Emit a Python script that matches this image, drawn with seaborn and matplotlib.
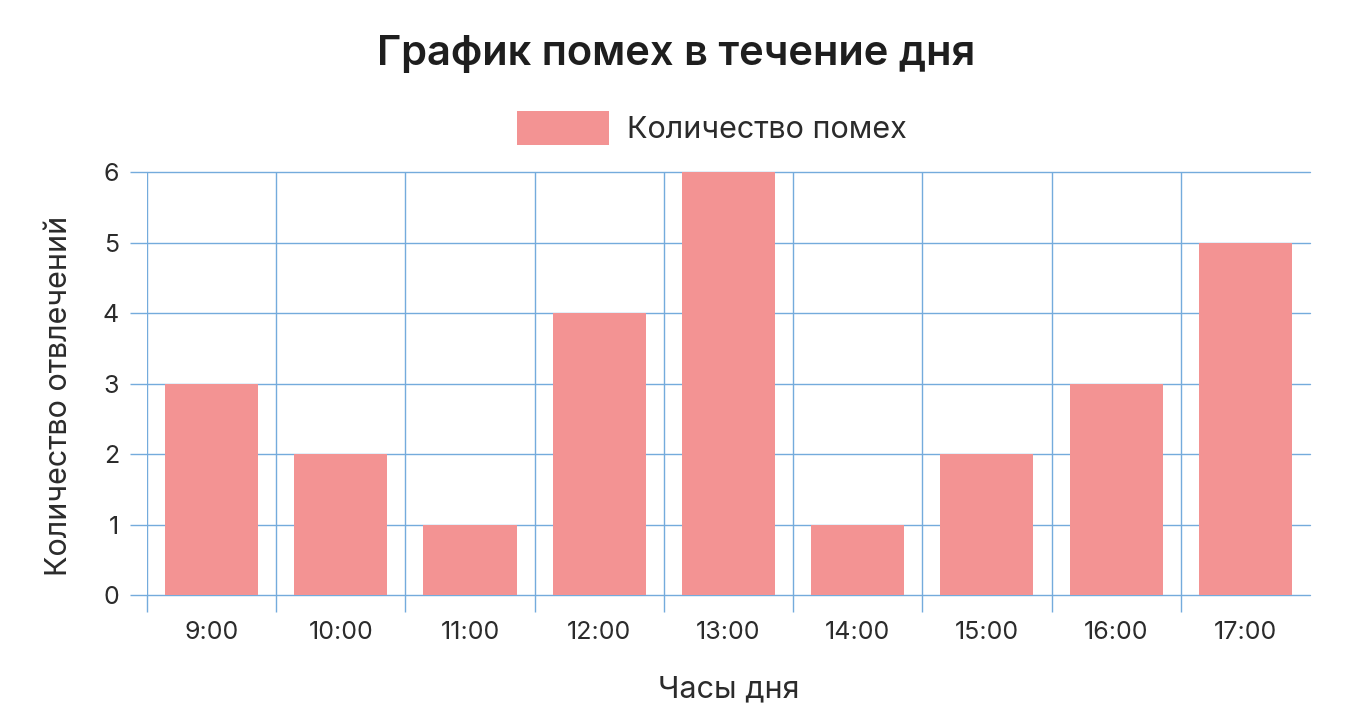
import pandas as pd
import seaborn as sns
import matplotlib.pyplot as plt

# Data
hours = ["9:00", "10:00", "11:00", "12:00", "13:00", "14:00", "15:00", "16:00", "17:00"]
interruptions = [3, 2, 1, 4, 6, 1, 2, 3, 5]
y_ticks = [0, 1, 2, 3, 4, 5, 6]

df = pd.DataFrame({"Час": hours, "Количество помех": interruptions})

sns.set_theme(style="white")
plt.rcParams['font.family'] = ['Inter', 'DejaVu Sans']

grid_color = '#74abdc'
bar_color = '#f39393'
text_color = '#2b2b2b'

fig = plt.figure(figsize=(13.52, 7.2), dpi=100)
ax = fig.add_axes([0.1087, 0.1736, 0.8602, 0.5875])

sns.barplot(data=df, x="Час", y="Количество помех", color=bar_color,
            width=0.72, saturation=1, linewidth=0, label="Количество помех",
            ax=ax, zorder=2)

ax.set_ylim(0, 6)
ax.set_xlim(-0.5, len(hours) - 0.5)
ax.set_yticks(y_ticks)

# Vertical lines sit at the category boundaries (left edge of each slot)
ax.set_xticks([i - 0.5 for i in range(len(hours))], minor=True)
ax.grid(True, axis='y', which='major', color=grid_color, linewidth=1, zorder=0)
ax.grid(True, axis='x', which='minor', color=grid_color, linewidth=1, zorder=0)
ax.set_axisbelow(True)
# keep the 0 and 6 lines at full thickness
for line in ax.get_ygridlines():
    line.set_clip_on(False)

ax.tick_params(axis='x', which='major', bottom=False, length=0, pad=19,
               labelsize=18, labelcolor=text_color)
ax.tick_params(axis='x', which='minor', bottom=True, length=12, width=1, color=grid_color)
ax.tick_params(axis='y', which='major', left=True, length=12, width=1, color=grid_color,
               pad=8, labelsize=18, labelcolor=text_color)

for side in ['top', 'right', 'bottom', 'left']:
    ax.spines[side].set_visible(False)

ax.set_xlabel("Часы дня", fontsize=22, color=text_color, labelpad=22)
ax.set_ylabel("Количество отвлечений", fontsize=22, color=text_color, labelpad=18)
ax.yaxis.set_label_coords(-0.064, 0.47)

fig.suptitle("График помех в течение дня", fontsize=30, fontweight='semibold',
             color='#1e1e1e', y=0.952)

ax.legend(loc='lower center', bbox_to_anchor=(0.486, 1.0), frameon=False,
          fontsize=22, handlelength=3.0, handleheight=1.3, handletextpad=0.6,
          labelcolor=text_color)

plt.savefig("out.png", dpi=100)
